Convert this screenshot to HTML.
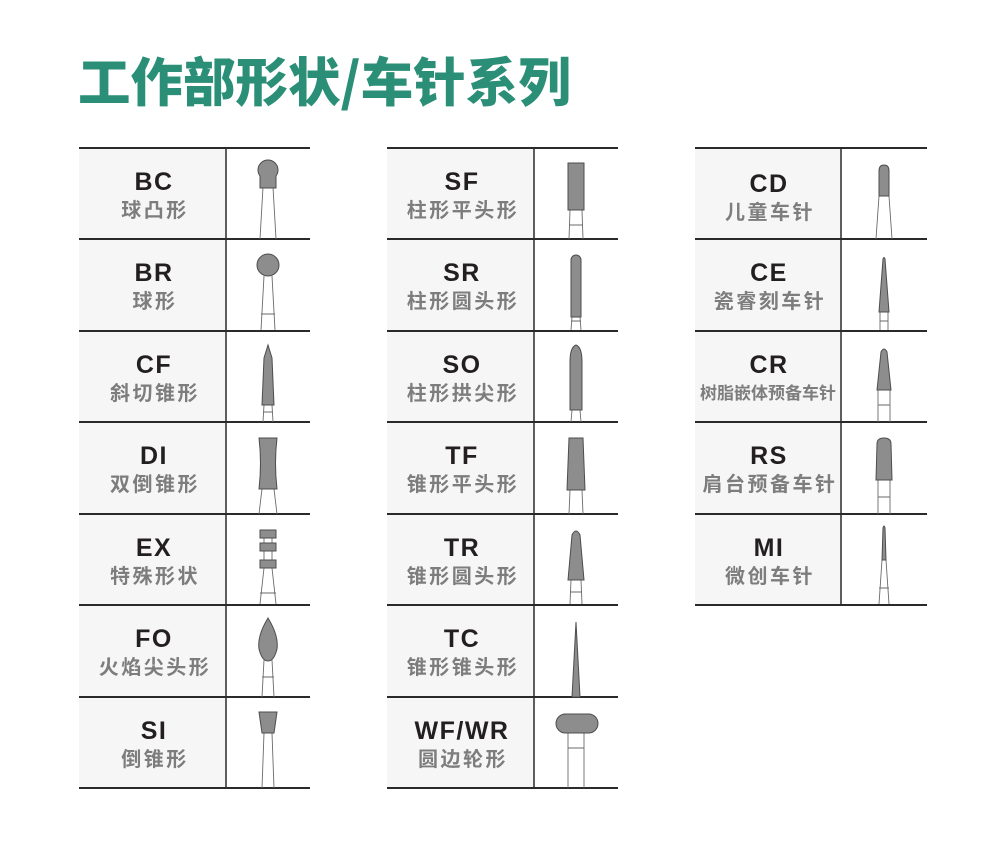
<!DOCTYPE html>
<html><head><meta charset="utf-8"><style>
html,body{margin:0;padding:0;background:#fff;}
svg{display:block;}
.code{font-family:"Liberation Sans","Noto Sans CJK SC",sans-serif;font-weight:bold;font-size:25px;letter-spacing:1.5px;fill:#231f20;text-anchor:middle;}
.cn{font-family:"Noto Sans CJK SC",sans-serif;font-weight:bold;font-size:20px;letter-spacing:2.5px;fill:#7d7d7d;text-anchor:middle;}
.h{fill:#8d8d8d;stroke:#4d4d4d;stroke-width:1;}
.s{stroke:#6a6a6a;stroke-width:0.9;fill:none;}
.ln{stroke:#2a2a2a;stroke-width:2;}
.vl{stroke:#2a2a2a;stroke-width:1.5;}
</style></head><body>
<svg width="1000" height="841" viewBox="0 0 1000 841" xmlns="http://www.w3.org/2000/svg">
<text x="78" y="101" style="font-family:'Noto Sans CJK SC',sans-serif;font-weight:900;font-size:52.5px;fill:#2b8f77;">工作部形状/车针系列</text>

<rect x="79" y="148" width="147" height="640" fill="#f6f6f6"/>
<rect x="387" y="148" width="147" height="640" fill="#f6f6f6"/>
<rect x="695" y="148" width="146" height="457" fill="#f6f6f6"/>

<g class="ln">
<line x1="79" y1="148" x2="310" y2="148"/><line x1="79" y1="239" x2="310" y2="239"/><line x1="79" y1="331" x2="310" y2="331"/><line x1="79" y1="422" x2="310" y2="422"/><line x1="79" y1="514" x2="310" y2="514"/><line x1="79" y1="605" x2="310" y2="605"/><line x1="79" y1="697" x2="310" y2="697"/><line x1="79" y1="788" x2="310" y2="788"/>
<line x1="387" y1="148" x2="618" y2="148"/><line x1="387" y1="239" x2="618" y2="239"/><line x1="387" y1="331" x2="618" y2="331"/><line x1="387" y1="422" x2="618" y2="422"/><line x1="387" y1="514" x2="618" y2="514"/><line x1="387" y1="605" x2="618" y2="605"/><line x1="387" y1="697" x2="618" y2="697"/><line x1="387" y1="788" x2="618" y2="788"/>
<line x1="695" y1="148" x2="927" y2="148"/><line x1="695" y1="239" x2="927" y2="239"/><line x1="695" y1="331" x2="927" y2="331"/><line x1="695" y1="422" x2="927" y2="422"/><line x1="695" y1="514" x2="927" y2="514"/><line x1="695" y1="605" x2="927" y2="605"/>
</g>
<g class="vl">
<line x1="226" y1="148" x2="226" y2="788"/><line x1="534" y1="148" x2="534" y2="788"/><line x1="841" y1="148" x2="841" y2="605"/>
</g>

<text class="code" x="154" y="190">BC</text><text class="cn" x="155" y="217">球凸形</text>
<text class="code" x="154" y="281">BR</text><text class="cn" x="155" y="308">球形</text>
<text class="code" x="154" y="373">CF</text><text class="cn" x="155" y="400">斜切锥形</text>
<text class="code" x="154" y="464">DI</text><text class="cn" x="155" y="491">双倒锥形</text>
<text class="code" x="154" y="556">EX</text><text class="cn" x="155" y="583">特殊形状</text>
<text class="code" x="154" y="647">FO</text><text class="cn" x="155" y="674">火焰尖头形</text>
<text class="code" x="154" y="739">SI</text><text class="cn" x="155" y="766">倒锥形</text>

<text class="code" x="462" y="190">SF</text><text class="cn" x="463" y="217">柱形平头形</text>
<text class="code" x="462" y="281">SR</text><text class="cn" x="463" y="308">柱形圆头形</text>
<text class="code" x="462" y="373">SO</text><text class="cn" x="463" y="400">柱形拱尖形</text>
<text class="code" x="462" y="464">TF</text><text class="cn" x="463" y="491">锥形平头形</text>
<text class="code" x="462" y="556">TR</text><text class="cn" x="463" y="583">锥形圆头形</text>
<text class="code" x="462" y="647">TC</text><text class="cn" x="463" y="674">锥形锥头形</text>
<text class="code" x="462" y="739">WF/WR</text><text class="cn" x="463" y="766">圆边轮形</text>

<text class="code" x="769" y="192">CD</text><text class="cn" x="770" y="219">儿童车针</text>
<text class="code" x="769" y="281">CE</text><text class="cn" x="770" y="308">瓷睿刻车针</text>
<text class="code" x="769" y="373">CR</text><text class="cn" x="768" y="399" style="font-size:17px;letter-spacing:0">树脂嵌体预备车针</text>
<text class="code" x="769" y="464">RS</text><text class="cn" x="770" y="491">肩台预备车针</text>
<text class="code" x="769" y="556">MI</text><text class="cn" x="770" y="583">微创车针</text>

<path class="s" d="M263,187 L260,239 M273,187 L276,239"/>
<path class="h" d="M260,176 A10,10 0 1 1 276,176 L276,188 L260,188 Z"/>

<path class="s" d="M264,276 L261,330 M272,276 L275,330 M261,314 L275,314"/>
<circle class="h" cx="268" cy="265" r="11"/>

<path class="s" d="M264,405 L263,422 M272,405 L273,422 M263,412 L273,412"/>
<path class="h" d="M268,345 L264,358 L262,405 L274,405 L272,358 Z"/>

<path class="s" d="M262,489 L259,514 M274,489 L277,514"/>
<path class="h" d="M259,438 L277,438 Q274,463 277,489 L259,489 Q262,463 259,438 Z"/>

<path class="s" d="M264,538 L264,543 M272,538 L272,543 M264,551 L264,560 M272,551 L272,560 M264,568 L260,604 M272,568 L276,604 M260,593 L276,593"/>
<rect class="h" x="260" y="530" width="16" height="8"/>
<rect class="h" x="260" y="543" width="16" height="8"/>
<rect class="h" x="260" y="560" width="16" height="8"/>

<path class="s" d="M264,660 L262,697 M272,660 L274,697 M262,677 L274,677"/>
<path class="h" d="M268,618 Q257,636 259,649 Q262,661 268,661 Q274,661 277,649 Q279,636 268,618 Z"/>

<path class="s" d="M264,733 L262,788 M272,733 L274,788"/>
<path class="h" d="M259,712 L277,712 L274,733 L262,733 Z"/>

<path class="s" d="M570,210 L569,239 M582,210 L583,239 M569,225 L583,225"/>
<rect class="h" x="568" y="163" width="16" height="47"/>

<path class="s" d="M572,317 L571,330 M580,317 L581,330 M571,321 L581,321"/>
<path class="h" d="M571,317 L571,260 A5,5 0 0 1 581,260 L581,317 Z"/>

<path class="s" d="M572,410 L571,422 M580,410 L581,422"/>
<path class="h" d="M570,410 L570,362 Q570,347 576,345 Q582,347 582,362 L582,410 Z"/>

<path class="s" d="M570,490 L569,514 M582,490 L583,514"/>
<path class="h" d="M569,438 L583,438 L585,490 L567,490 Z"/>

<path class="s" d="M571,580 L570,604 M581,580 L582,604 M570,592 L582,592"/>
<path class="h" d="M568,580 L572,535 Q576,527 580,535 L584,580 Z"/>

<path class="h" d="M576,622 L580,697 L572,697 Z"/>

<path class="s" d="M568,733 L568,788 M584,733 L584,788 M568,748 L584,748"/>
<rect class="h" x="556" y="714" width="42" height="19" rx="9.5"/>

<path class="s" d="M879,196 L876,239 M889,196 L892,239"/>
<path class="h" d="M879,196 L879,171 Q879,165 884,165 Q889,165 889,171 L889,196 Z"/>

<path class="s" d="M880,312 L880,330 M888,312 L888,330 M880,321 L888,321"/>
<path class="h" d="M879,312 L883,259 Q884,256 885,259 L889,312 Z"/>

<path class="s" d="M878,390 L878,422 M890,390 L890,422 M878,405 L890,405"/>
<path class="h" d="M877,390 L881,352 Q884,346 887,352 L891,390 Z"/>

<path class="s" d="M878,480 L878,514 M890,480 L890,514 M878,497 L890,497"/>
<path class="h" d="M876,480 L877,444 Q877,438 884,438 Q891,438 891,444 L892,480 Z"/>

<path class="s" d="M882,560 L879,604 M886,560 L889,604 M879,588 L889,588"/>
<path class="h" d="M882,560 L883,528 Q884,524 885,528 L886,560 Z"/>
</svg>
</body></html>
